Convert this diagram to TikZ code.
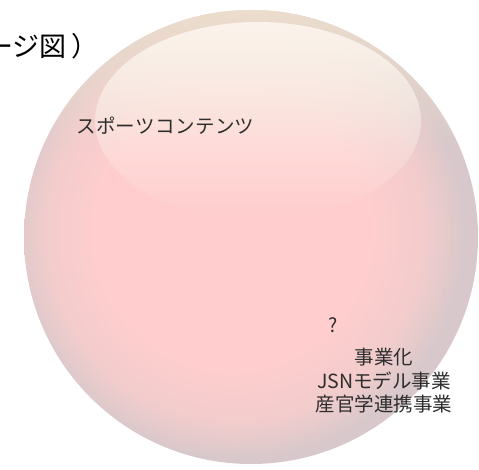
\documentclass[tikz,border=0pt]{standalone}
\usepackage{fontspec}
\setmainfont{Noto Sans CJK JP}
\usetikzlibrary{fadings}
\definecolor{ballin}{RGB}{255,205,205}
\definecolor{ballmid}{RGB}{242,204,204}
\definecolor{ballout}{RGB}{216,200,203}
\definecolor{rimbeige}{RGB}{237,223,205}
\definecolor{cream}{RGB}{253,246,239}
\definecolor{txt}{RGB}{45,45,45}
\pgfdeclareradialshading{ballshade}{\pgfpoint{-3bp}{1bp}}{color(0bp)=(ballin); color(15bp)=(ballin); color(21bp)=(ballmid); color(25bp)=(ballout); color(50bp)=(ballout)}
\tikzfading[name=hlfade, top color=transparent!0, middle color=transparent!60, bottom color=transparent!100]
\tikzset{
  lbl/.style={text=txt, inner sep=0pt, font=\fontsize{19.5}{23.5}\selectfont},
}
\begin{document}
\begin{tikzpicture}[x=1pt,y=-1pt]
\useasboundingbox (0,0) rectangle (479,470);
\clip (0,0) rectangle (479,470);
\fill[white] (0,0) rectangle (479,470);
\coordinate (c) at (251,237);
\shade[shading=ballshade] (c) circle (227);
\begin{scope}
  \clip (c) circle (227);
  \fill[rimbeige, path fading=south, fill opacity=0.95] (0,5) rectangle (479,150);
\end{scope}
\fill[cream, path fading=hlfade, fill opacity=0.92] (258,121) ellipse (163 and 99);
\node[anchor=base west, inner sep=0pt, text=black, font=\fontsize{27}{32}\selectfont] (t) at (-14,57) {ージ図\hspace{5pt}）};
\node[lbl, anchor=west] (s) at (76,126) {\addfontfeature{LetterSpace=2}スポーツコンテンツ};
\node[lbl] (q) at (333,325) {?};
\node[lbl, align=center] (b) at (384,381) {事業化\\JSNモデル事業\\産官学連携事業};
\end{tikzpicture}
\end{document}
